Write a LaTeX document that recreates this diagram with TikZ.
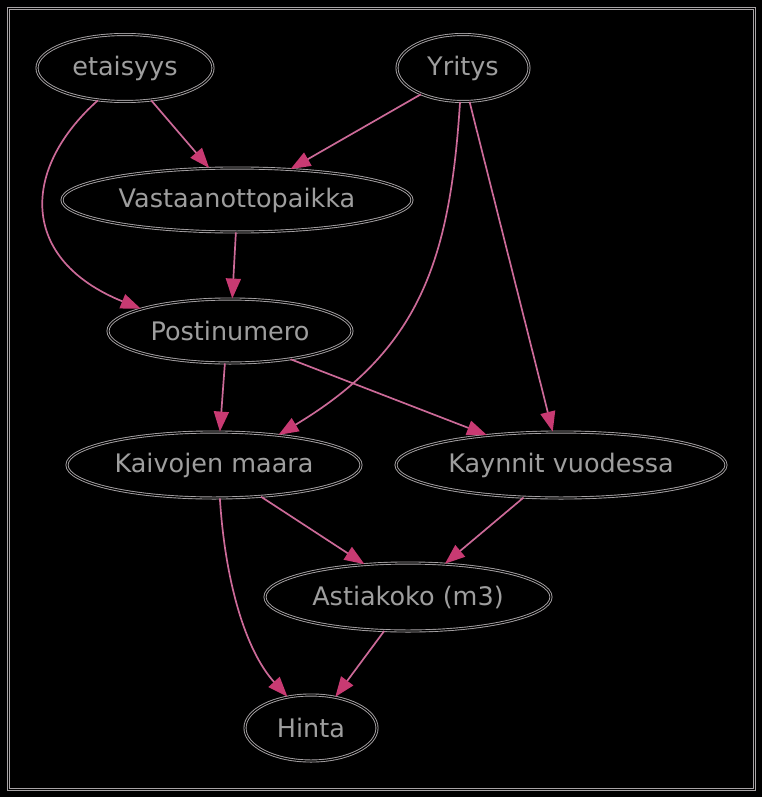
\documentclass[tikz,border=0pt]{standalone}
\usepackage{fontspec}
\setmainfont{DejaVu Sans}
\usetikzlibrary{shapes.geometric,arrows.meta}
\definecolor{edgepink}{HTML}{CC6A98}
\definecolor{arrowpink}{HTML}{C83A72}
\definecolor{linegray}{HTML}{A8A4A6}
\definecolor{txtgray}{HTML}{9E9E9E}
\begin{document}
\begin{tikzpicture}[x=1pt,y=-1pt,
  nd/.style={ellipse,draw=linegray,double=black,double distance=1.2pt,line width=0.9pt,
    inner sep=0pt,text=txtgray,font=\fontsize{25.5}{28}\selectfont},
  ed/.style={draw=edgepink,line width=1.7pt,-{Triangle[length=20pt,width=15pt,color=arrowpink]}}]
\fill[black] (0,0) rectangle (762,797);
\useasboundingbox (0,0) rectangle (762,797);
\draw[linegray,double=black,double distance=1.2pt,line width=0.9pt] (8.5,8.5) rectangle (754.5,789.5);
\node[nd,minimum width=176pt,minimum height=67pt] (et) at (125,68) {etaisyys};
\node[nd,minimum width=132pt,minimum height=67pt] (yr) at (463,68) {Yritys};
\node[nd,minimum width=350pt,minimum height=64pt] (va) at (237,200) {Vastaanottopaikka};
\node[nd,minimum width=244pt,minimum height=64pt] (po) at (230,331) {Postinumero};
\node[nd,minimum width=294pt,minimum height=66pt] (ka) at (214,465) {Kaivojen maara};
\node[nd,minimum width=330pt,minimum height=66pt] (ky) at (561,465) {Kaynnit vuodessa};
\node[nd,minimum width=286pt,minimum height=68pt] (as) at (408,597) {Astiakoko (m3)};
\node[nd,minimum width=132pt,minimum height=66pt] (hi) at (311,728) {Hinta};
\draw[ed] (et.-51) -- (va.131);
\draw[ed] (yr.-148) -- (va.30);
\draw[ed] (et.-130) .. controls (20,170) and (20,260) .. (po.166);
\draw[ed] (va.-92) -- (po.86);
\draw[ed] (yr.-95) .. controls (450,260) and (420,350) .. (ka.25);
\draw[ed] (yr.-79) -- (ky.104);
\draw[ed] (po.-99) -- (ka.80);
\draw[ed] (po.-25) -- (ky.158);
\draw[ed] (ka.-80) .. controls (225,580) and (245,650) .. (hi.127);
\draw[ed] (ka.-34) -- (as.143);
\draw[ed] (ky.-139) -- (as.42);
\draw[ed] (as.-125) -- (hi.52);
\end{tikzpicture}
\end{document}
